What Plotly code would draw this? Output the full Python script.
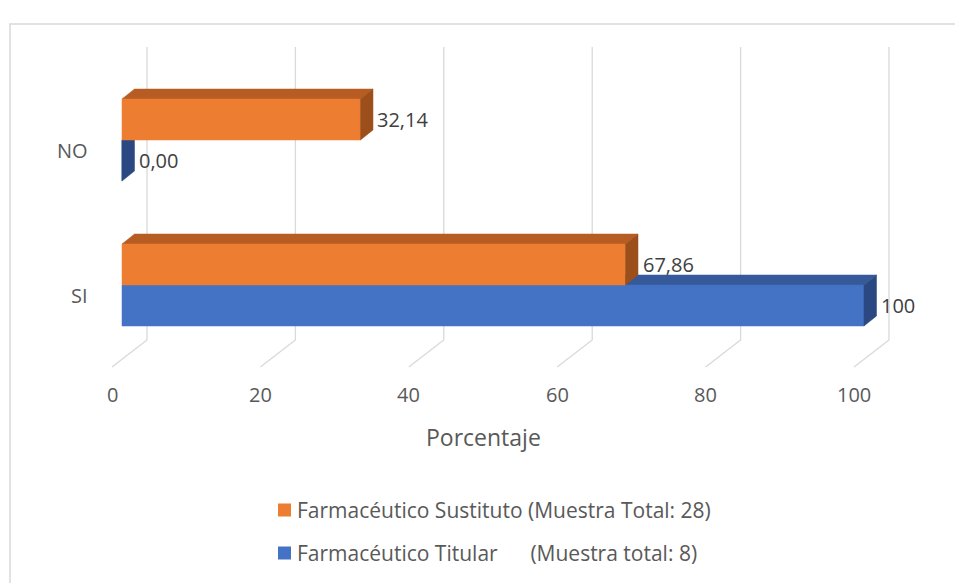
import plotly.graph_objects as go

# ---- data ----
categories = ["NO", "SI"]
sustituto = [32.14, 67.86]
titular = [0.00, 100]
sustituto_labels = ["32,14", "67,86"]
titular_labels = ["0,00", "100"]
tick_values = [0, 20, 40, 60, 80, 100]
axis_title = "Porcentaje"
series_names = [
    "Farmacéutico Sustituto (Muestra Total: 28)",
    "Farmacéutico Titular" + "\u00a0" * 6 + "(Muestra total: 8)",
]

# ---- geometry / styling ----
W, H = 955, 583
PX_X0 = 122.0          # pixel column of value 0 on the bar plane
PX_PER_UNIT = 7.42     # pixels per percentage point
PX_Y0 = 140.0          # pixel row of the first category's series boundary
PX_PER_CAT = 145.0     # pixels between categories

x_range = [-PX_X0 / PX_PER_UNIT, (W - PX_X0) / PX_PER_UNIT]
y_range = [(H - PX_Y0) / PX_PER_CAT, -PX_Y0 / PX_PER_CAT]  # reversed (top to bottom)

def ux(px):  # pixel length -> x units
    return px / PX_PER_UNIT

def uy(px):  # pixel length -> y units
    return px / PX_PER_CAT

BAR_H = uy(41)
DX, DY = ux(12.5), uy(-10)

ORANGE = dict(front="#ED7D31", top="#B75C22", side="#9C4F1B")
BLUE = dict(front="#4472C4", top="#36599A", side="#2B4882")
GRID = "#D9D9D9"
TEXT = "#595959"
FONT = "Open Sans"

fig = go.Figure()

# back-wall gridlines with floor diagonals toward the front
back_off, front_off = ux(25), ux(-10)
y_top, y_floor, y_front = uy(47 - PX_Y0), uy(340 - PX_Y0), uy(367 - PX_Y0)
for t in tick_values:
    fig.add_trace(go.Scatter(
        x=[t + back_off, t + back_off, t + front_off],
        y=[y_top, y_floor, y_front],
        mode="lines", line=dict(color=GRID, width=1.3),
        hoverinfo="skip", showlegend=False))

def add_box(value, y0, y1, colors):
    """Front face, top face and right side face of one 3D bar."""
    faces = [
        ("top", [0, DX, value + DX, value, 0], [y0, y0 + DY, y0 + DY, y0, y0]),
        ("front", [0, value, value, 0, 0], [y0, y0, y1, y1, y0]),
        ("side", [value, value + DX, value + DX, value, value],
         [y0, y0 + DY, y1 + DY, y1, y0]),
    ]
    for key, xs, ys in faces:
        fig.add_trace(go.Scatter(
            x=xs, y=ys, mode="lines", fill="toself",
            fillcolor=colors[key], line=dict(color=colors[key], width=0.5),
            hoverinfo="skip", showlegend=False))

annotations = []
for i, cat in enumerate(categories):
    c = float(i)
    # blue bar sits below the boundary, orange above; orange drawn last
    add_box(titular[i], c, c + BAR_H, BLUE)
    add_box(sustituto[i], c - BAR_H, c, ORANGE)

    annotations.append(dict(
        x=titular[i] + DX + ux(2.5), y=c + BAR_H / 2, text=titular_labels[i],
        xanchor="left", yanchor="middle", showarrow=False,
        font=dict(family=FONT, size=20, color="#404040")))
    annotations.append(dict(
        x=sustituto[i] + DX + ux(2.5), y=c - BAR_H / 2, text=sustituto_labels[i],
        xanchor="left", yanchor="middle", showarrow=False,
        font=dict(family=FONT, size=20, color="#404040")))
    annotations.append(dict(
        x=ux(90 - PX_X0), y=c + uy(10), text=cat,
        xanchor="right", yanchor="middle", showarrow=False,
        font=dict(family=FONT, size=20, color=TEXT)))

# value tick labels along the front edge
for t in tick_values:
    annotations.append(dict(
        x=t + front_off, y=uy(394 - PX_Y0), text=str(t),
        xanchor="center", yanchor="middle", showarrow=False,
        font=dict(family=FONT, size=20, color=TEXT)))

annotations.append(dict(
    x=(tick_values[0] + tick_values[-1]) / 2 + front_off, y=uy(437 - PX_Y0),
    text=axis_title, xanchor="center", yanchor="middle", showarrow=False,
    font=dict(family=FONT, size=23, color=TEXT)))

# legend
shapes = []
legend_rows = [(510, ORANGE["front"], series_names[0]), (553, BLUE["front"], series_names[1])]
for py, col, name in legend_rows:
    shapes.append(dict(type="rect", xref="paper", yref="paper",
                       x0=278 / W, x1=291 / W,
                       y0=1 - (py + 6.5) / H, y1=1 - (py - 6.5) / H,
                       fillcolor=col, line=dict(width=0)))
    annotations.append(dict(xref="paper", yref="paper", x=295 / W, y=1 - py / H,
                            text=name, xanchor="left", yanchor="middle",
                            showarrow=False,
                            font=dict(family=FONT, size=21, color=TEXT)))

# chart-area border
shapes.append(dict(type="rect", xref="paper", yref="paper",
                   x0=10 / W, x1=1.02, y0=-0.02, y1=1 - 24 / H,
                   line=dict(color="#D9D9D9", width=1.5), fillcolor="rgba(0,0,0,0)"))

fig.update_layout(
    width=W, height=H,
    margin=dict(l=0, r=0, t=0, b=0),
    paper_bgcolor="white", plot_bgcolor="white",
    xaxis=dict(range=x_range, visible=False, fixedrange=True),
    yaxis=dict(range=y_range, visible=False, fixedrange=True),
    annotations=annotations, shapes=shapes,
    showlegend=False,
)

fig.write_html("out.html")
